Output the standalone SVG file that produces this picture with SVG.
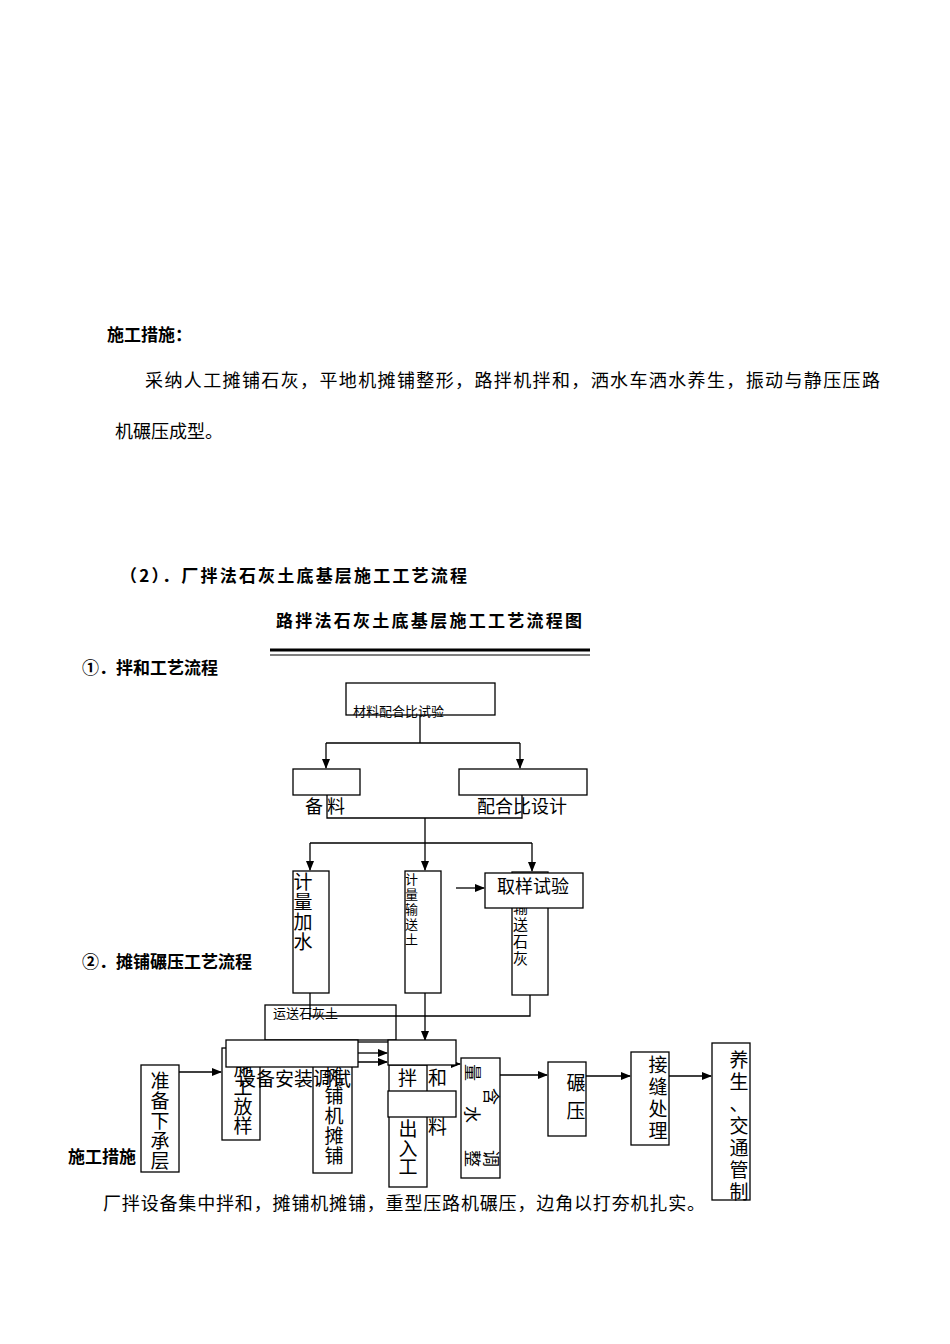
<svg xmlns="http://www.w3.org/2000/svg" width="950" height="1344" viewBox="0 0 950 1344">
<style>
text{font-family:"Noto Sans CJK SC",sans-serif;fill:#000}
.b{font-weight:bold;font-size:17px}
.p{font-size:18px}
.n{fill:#fff;stroke:#000;stroke-width:1.3}
.c{fill:none;stroke:#000;stroke-width:1.3}
.v{font-size:19px;text-anchor:middle}
</style>
<defs><marker id="a" markerWidth="10" markerHeight="8" refX="9" refY="4" orient="auto" markerUnits="userSpaceOnUse"><path d="M0,0L10,4L0,8z"/></marker></defs>
<rect width="950" height="1344" fill="#fff"/>
<text class="b" x="107" y="341">施工措施：</text>
<text class="p" x="145" y="387" textLength="735">采纳人工摊铺石灰，平地机摊铺整形，路拌机拌和，洒水车洒水养生，振动与静压压路</text>
<text class="p" x="115" y="438">机碾压成型。</text>
<text class="b" x="120" y="582" textLength="347">（2）．厂拌法石灰土底基层施工工艺流程</text>
<text class="b" x="276" y="627" textLength="306">路拌法石灰土底基层施工工艺流程图</text>
<line x1="270" y1="650" x2="590" y2="650" stroke="#000" stroke-width="3"/>
<line x1="270" y1="655" x2="590" y2="655" stroke="#000" stroke-width="1"/>
<text class="b" x="82" y="674">①．拌和工艺流程</text>
<text class="b" x="82" y="968">②．摊铺碾压工艺流程</text>
<text class="b" x="68" y="1163">施工措施</text>
<text class="p" x="103" y="1210" textLength="602">厂拌设备集中拌和，摊铺机摊铺，重型压路机碾压，边角以打夯机扎实。</text>
<g id="connectors">
<path class="c" d="M420,715V743M326,743H520"/>
<path class="c" d="M326,743V768" marker-end="url(#a)"/>
<path class="c" d="M520,743V768" marker-end="url(#a)"/>
<path class="c" d="M327,795V818H522V795M425,818V843M310,843H532"/>
<path class="c" d="M310,843V870" marker-end="url(#a)"/>
<path class="c" d="M425,843V870" marker-end="url(#a)"/>
<path class="c" d="M532,843V871" marker-end="url(#a)"/>
<path class="c" d="M456,888H484" marker-end="url(#a)"/>
<path class="c" d="M310,993V1016H530V995"/>
<path class="c" d="M425,993V1040" marker-end="url(#a)"/>
<path class="c" d="M179,1072H221" marker-end="url(#a)"/>
<path class="c" d="M358,1042H388"/>
<path class="c" d="M358,1053H387" marker-end="url(#a)"/>
<path class="c" d="M240,1062H318" marker-end="url(#a)"/>
<path class="c" d="M333,1062V1076" marker-end="url(#a)"/>
<path class="c" d="M352,1062H387" marker-end="url(#a)"/>
<path class="c" d="M422,1065V1091" marker-end="url(#a)"/>
<path class="c" d="M427,1064H460" marker-end="url(#a)"/>
<path class="c" d="M500,1075H547" marker-end="url(#a)"/>
<path class="c" d="M586,1076H630" marker-end="url(#a)"/>
<path class="c" d="M669,1076H711" marker-end="url(#a)"/>
</g>
<g id="n1"><rect class="n" x="346" y="683" width="149" height="32"/><text x="353" y="716" font-size="13">材料配合比试验</text></g>
<g id="n2"><rect class="n" x="293" y="769" width="67" height="26"/><text x="305" y="813" font-size="18">备 料</text></g>
<g id="n3"><rect class="n" x="459" y="769" width="128" height="26"/><text x="477" y="813" font-size="18">配合比设计</text></g>
<g id="n4"><rect class="n" x="293" y="871" width="36" height="122"/><text class="v" x="303" y="889" font-size="20">计<tspan x="303" dy="20">量</tspan><tspan x="303" dy="20">加</tspan><tspan x="303" dy="20">水</tspan></text></g>
<g id="n5"><rect class="n" x="405" y="871" width="36" height="122"/><text x="405" y="884" font-size="13">计<tspan x="405" dy="15">量</tspan><tspan x="405" dy="15">输</tspan><tspan x="405" dy="15">送</tspan><tspan x="405" dy="15">土</tspan></text></g>
<g id="n6"><rect class="n" x="512" y="872" width="36" height="123"/><text x="513" y="913" font-size="15">输<tspan x="513" dy="17">送</tspan><tspan x="513" dy="17">石</tspan><tspan x="513" dy="17">灰</tspan></text></g>
<g id="n7"><rect class="n" x="485" y="873" width="98" height="35"/><text x="497" y="893" font-size="18">取样试验</text></g>
<g id="n8"><rect class="c" x="265" y="1005" width="131" height="35"/><text x="273" y="1018" font-size="13">运送石灰土</text></g>
<g id="n9"><rect class="n" x="222" y="1048" width="38" height="92"/><text class="v" x="243" y="1076" font-size="20">施<tspan x="243" dy="19">工</tspan><tspan x="243" dy="19">放</tspan><tspan x="243" dy="19">样</tspan></text></g>
<g id="n10"><rect class="n" x="141" y="1065" width="38" height="107"/><text class="v" x="160" y="1088" font-size="20">准<tspan x="160" dy="20">备</tspan><tspan x="160" dy="20">下</tspan><tspan x="160" dy="20">承</tspan><tspan x="160" dy="20">层</tspan></text></g>
<g id="n11"><rect class="n" x="313" y="1065" width="39" height="108"/><text class="v" x="334" y="1083" font-size="20">摊<tspan x="334" dy="20">铺</tspan><tspan x="334" dy="20">机</tspan><tspan x="334" dy="20">摊</tspan><tspan x="334" dy="20">铺</tspan></text></g>
<g id="n12"><rect class="n" x="226" y="1040" width="132" height="27"/><text x="237" y="1086" font-size="19">设备安装调试</text></g>
<g id="n13"><rect class="n" x="389" y="1065" width="38" height="122"/><rect class="n" x="388" y="1040" width="68" height="25"/><text x="398" y="1085" font-size="19">拌</text><text x="428" y="1085" font-size="19">和</text><rect class="n" x="388" y="1091" width="68" height="26"/><text x="428" y="1134" font-size="19">料</text><text class="v" x="408" y="1136" font-size="19">出<tspan x="408" dy="20">入</tspan><tspan x="408" dy="18">工</tspan></text></g>
<g id="n14"><rect class="n" x="461" y="1058" width="39" height="120"/><text font-size="17" transform="translate(466,1064) rotate(90)">量</text><text font-size="17" transform="translate(485,1088) rotate(90)">含</text><text font-size="17" transform="translate(466,1106) rotate(90)">水</text><text font-size="17" transform="translate(485,1150) rotate(90)">调</text><text font-size="17" transform="translate(466,1150) rotate(90)">整</text></g>
<g id="n15"><rect class="n" x="548" y="1062" width="38" height="74"/><text class="v" x="576" y="1090" font-size="19">碾<tspan x="576" dy="28">压</tspan></text></g>
<g id="n16"><rect class="n" x="631" y="1052" width="38" height="93"/><text class="v" x="658" y="1072" font-size="19">接<tspan x="658" dy="22">缝</tspan><tspan x="658" dy="22">处</tspan><tspan x="658" dy="22">理</tspan></text></g>
<g id="n17"><rect class="n" x="712" y="1043" width="38" height="157"/><text class="v" x="739" y="1067" font-size="19">养<tspan x="739" dy="22">生</tspan><tspan x="739" dy="22">、</tspan><tspan x="739" dy="22">交</tspan><tspan x="739" dy="22">通</tspan><tspan x="739" dy="22">管</tspan><tspan x="739" dy="22">制</tspan></text></g>
</svg>
